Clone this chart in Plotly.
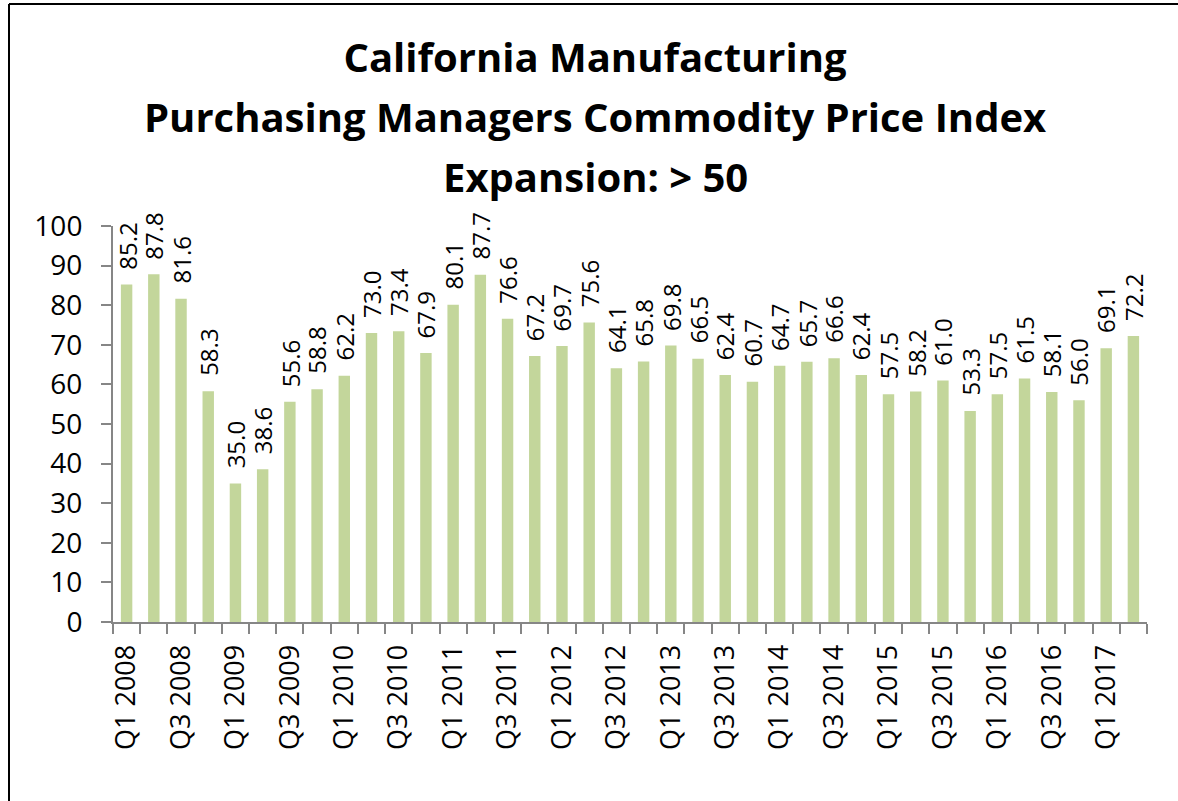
import plotly.graph_objects as go

categories = []
for yr in range(2008, 2018):
    for q in range(1, 5):
        categories.append(f"Q{q} {yr}")
categories = categories[:38]

values = [85.2, 87.8, 81.6, 58.3, 35.0, 38.6, 55.6, 58.8, 62.2, 73.0,
          73.4, 67.9, 80.1, 87.7, 76.6, 67.2, 69.7, 75.6, 64.1, 65.8,
          69.8, 66.5, 62.4, 60.7, 64.7, 65.7, 66.6, 62.4, 57.5, 58.2,
          61.0, 53.3, 57.5, 61.5, 58.1, 56.0, 69.1, 72.2]

title_lines = ["California Manufacturing",
               "Purchasing Managers Commodity Price Index",
               "Expansion: > 50"]

FONT = "Open Sans"
BAR_COLOR = "#C3D69B"
AXIS_COLOR = "#868686"
TITLE_SIZE = 40

x_idx = list(range(len(categories)))
label_idx = x_idx[::2]
label_txt = [categories[i] for i in label_idx]
boundaries = [i - 0.5 for i in range(len(categories) + 1)]

fig = go.Figure()
fig.add_trace(go.Bar(
    x=x_idx, y=values,
    marker=dict(color=BAR_COLOR, line=dict(width=0)),
    cliponaxis=False,
    width=0.42,
    hovertemplate="%{y:.1f}<extra></extra>",
))

# data labels: rotated value text above each bar
for xi, v in zip(x_idx, values):
    fig.add_annotation(x=xi, y=v, xref="x", yref="y",
                       text=f"{v:.1f}", textangle=-90, showarrow=False,
                       xanchor="center", yanchor="bottom", yshift=13,
                       font=dict(family=FONT, size=24, color="black"))

title_x = (595 - 113) / 1034

fig.update_layout(
    width=1178, height=801,
    paper_bgcolor="white", plot_bgcolor="white",
    margin=dict(l=113, r=31, t=226, b=179),
    showlegend=False,
    title=dict(text="<b>" + title_lines[0] + "</b>",
               x=title_x, xref="paper", xanchor="center",
               y=1 - 58 / 801, yref="container", yanchor="middle",
               font=dict(family=FONT, size=TITLE_SIZE, color="black")),
    xaxis=dict(
        range=[-0.5, len(categories) - 0.5],
        tickmode="array", tickvals=label_idx, ticktext=label_txt,
        tickangle=-90, ticks="", ticklen=0, ticklabelstandoff=10,
        tickfont=dict(family=FONT, size=27, color="black"),
        showline=True, linecolor=AXIS_COLOR, linewidth=2,
        showgrid=False, zeroline=False, automargin=False,
        minor=dict(tickvals=boundaries, ticks="outside", ticklen=10,
                   tickcolor=AXIS_COLOR, tickwidth=2, showgrid=False),
    ),
    yaxis=dict(
        range=[0, 100], dtick=10,
        ticks="outside", ticklen=10, tickcolor=AXIS_COLOR, tickwidth=2,
        ticklabelstandoff=13,
        tickfont=dict(family=FONT, size=28, color="black"),
        showline=True, linecolor=AXIS_COLOR, linewidth=2,
        showgrid=False, zeroline=False, automargin=False,
    ),
)

for i, py in ((1, 117), (2, 176)):
    fig.add_annotation(text="<b>" + title_lines[i] + "</b>",
                       xref="paper", yref="paper", x=title_x, y=(622 - py) / 396,
                       xanchor="center", yanchor="middle", showarrow=False,
                       font=dict(family=FONT, size=TITLE_SIZE, color="black"))

# chart frame (left and top edges visible in the reference)
fig.add_shape(type="line", xref="paper", yref="paper",
              x0=(9 - 113) / 1034, x1=(9 - 113) / 1034,
              y0=(622 - 4) / 396, y1=(622 - 805) / 396,
              line=dict(color="black", width=2))
fig.add_shape(type="line", xref="paper", yref="paper",
              x0=(9 - 113) / 1034, x1=(1180 - 113) / 1034,
              y0=(622 - 4) / 396, y1=(622 - 4) / 396,
              line=dict(color="black", width=2))

fig.write_html("out.html",
               config={"displayModeBar": False},
               post_script="document.body.style.margin='0';"
                           "document.body.style.overflow='hidden';")
